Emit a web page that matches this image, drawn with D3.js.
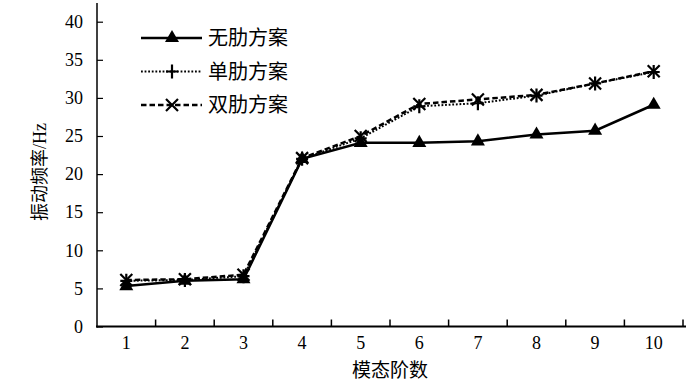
<!DOCTYPE html>
<html>
<head>
<meta charset="utf-8">
<script src="https://cdn.jsdelivr.net/npm/d3@7"></script>
<style>
  body { margin: 0; background: #fff; }
  text { font-family: "Liberation Serif", "Noto Sans CJK SC", serif; fill: #000; }
</style>
</head>
<body>
<script>
// 模态阶数
let modes = ["1", "2", "3", "4", "5", "6", "7", "8", "9", "10"];
// 振动频率 /Hz
let noRib     = [5.3, 6.0, 6.2, 22.0, 24.1, 24.1, 24.3, 25.2, 25.7, 29.1];
let singleRib = [6.0, 6.1, 6.6, 22.0, 24.7, 28.9, 29.3, 30.3, 31.9, 33.4];
let doubleRib = [6.1, 6.2, 6.8, 22.1, 25.0, 29.2, 29.8, 30.4, 31.9, 33.5];
let seriesNames = ["无肋方案", "单肋方案", "双肋方案"];
let yTicks = [0, 5, 10, 15, 20, 25, 30, 35, 40];

let W = 693, H = 391;
let svg = d3.select("body").append("svg")
    .attr("width", W)
    .attr("height", H);

// шкалы
let x = d3.scaleBand()
    .range([97, 683])
    .domain(modes);
let y = d3.scaleLinear()
    .range([326.5, 21.7])
    .domain([0, 40]);

let series = [
    {name: seriesNames[0], values: noRib, dash: null, width: 2.5, marker: "tri"},
    {name: seriesNames[1], values: singleRib, dash: "1.8,1.8", width: 2, marker: "plus"},
    {name: seriesNames[2], values: doubleRib, dash: "5.5,3", width: 2.5, marker: "cross"}
];

// оси
let xAxis = svg.append("g")
    .attr("transform", "translate(0," + y(0) + ")")
    .call(d3.axisBottom(x).tickSize(0).tickPadding(10));
xAxis.select(".domain").remove();
xAxis.append("line")
    .attr("x1", 96).attr("x2", 686)
    .attr("stroke", "#000").attr("stroke-width", 2);
// тики между категориями, направлены внутрь
xAxis.selectAll(".bnd")
    .data(modes)
    .join("line")
    .attr("class", "bnd")
    .attr("x1", (d, i) => x.range()[0] + x.bandwidth() * (i + 1))
    .attr("x2", (d, i) => x.range()[0] + x.bandwidth() * (i + 1))
    .attr("y1", 0).attr("y2", -7)
    .attr("stroke", "#000").attr("stroke-width", 1.5);
xAxis.selectAll(".tick text").style("font-size", "18px");

let yAxis = svg.append("g")
    .attr("transform", "translate(97,0)")
    .call(d3.axisLeft(y).tickValues(yTicks).tickSize(0).tickPadding(14));
yAxis.select(".domain").remove();
yAxis.append("line")
    .attr("y1", 3).attr("y2", y(0) + 1)
    .attr("stroke", "#000").attr("stroke-width", 1.5);
yAxis.selectAll(".tick").append("line")
    .attr("x1", 0).attr("x2", 6)
    .attr("stroke", "#000").attr("stroke-width", 1.2);
yAxis.selectAll(".tick text").style("font-size", "18px");

// подписи осей
svg.append("text")
    .attr("transform", "translate(46,172) rotate(-90)")
    .attr("text-anchor", "middle")
    .style("font-size", "18px")
    .text("振动频率/Hz");
svg.append("text")
    .attr("x", 390).attr("y", 377)
    .attr("text-anchor", "middle")
    .style("font-size", "19px")
    .text("模态阶数");

function drawMarker(g, type) {
    if (type === "tri") {
        g.append("path").attr("d", d3.symbol(d3.symbolTriangle, 85)()).attr("fill", "#000");
    } else if (type === "plus") {
        g.append("path").attr("d", "M-6,0H6M0,-7V7")
            .attr("stroke", "#000").attr("stroke-width", 2.2).attr("fill", "none");
    } else {
        g.append("path").attr("d", "M-6,-6L6,6M-6,6L6,-6")
            .attr("stroke", "#000").attr("stroke-width", 2.2).attr("fill", "none");
    }
}

let line = d3.line()
    .x((d, i) => x(modes[i]) + x.bandwidth() / 2)
    .y(d => y(d));

// линии, рисуем снизу вверх: двойной, одинарный, без ребра
for (let s of series.slice().reverse()) {
    svg.append("path")
        .datum(s.values)
        .attr("d", line)
        .attr("fill", "none")
        .attr("stroke", "#000")
        .attr("stroke-width", s.width)
        .attr("stroke-dasharray", s.dash);
    svg.append("g").selectAll("g")
        .data(s.values)
        .join("g")
        .attr("transform", (d, i) => "translate(" + (x(modes[i]) + x.bandwidth() / 2) + "," + y(d) + ")")
        .each(function () { drawMarker(d3.select(this), s.marker); });
}

// легенда
let legend = svg.append("g");
series.forEach((s, i) => {
    let ly = 38 + i * 33.5;
    legend.append("line")
        .attr("x1", 141).attr("x2", 202)
        .attr("y1", ly).attr("y2", ly)
        .attr("stroke", "#000")
        .attr("stroke-width", s.width)
        .attr("stroke-dasharray", s.dash);
    drawMarker(legend.append("g").attr("transform", "translate(172," + ly + ")"), s.marker);
    legend.append("text")
        .attr("x", 208).attr("y", ly)
        .attr("dy", "0.35em")
        .style("font-size", "20px")
        .text(s.name);
});
</script>
</body>
</html>
